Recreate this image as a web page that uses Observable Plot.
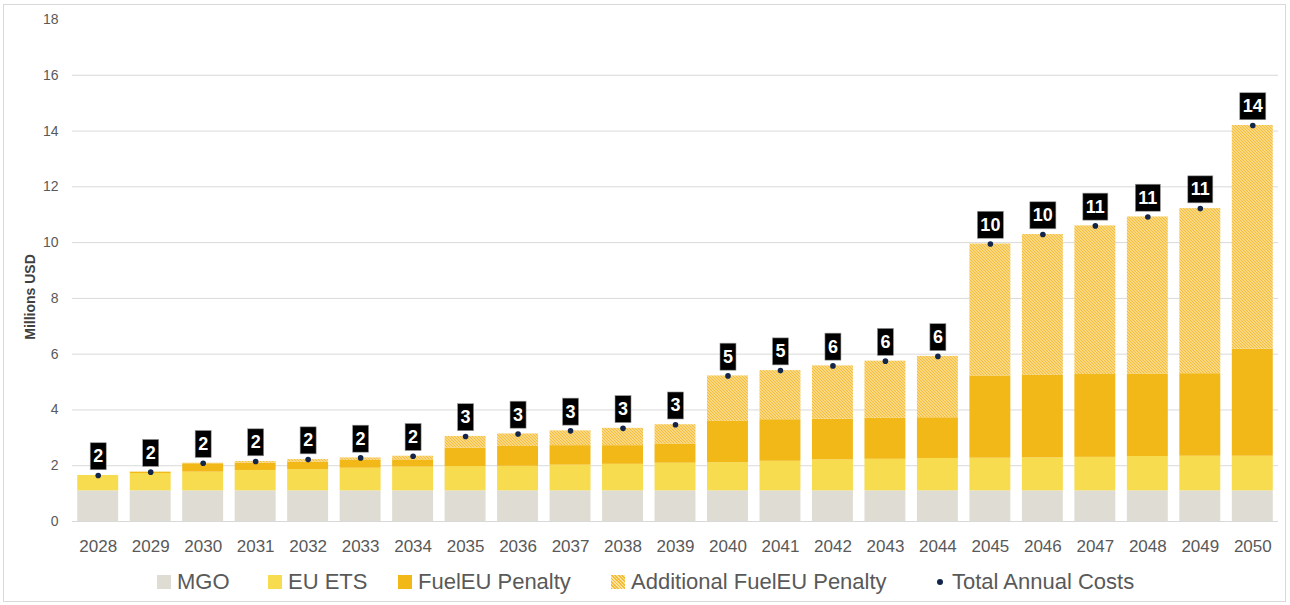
<!DOCTYPE html>
<html>
<head>
<meta charset="utf-8">
<script src="https://cdn.jsdelivr.net/npm/d3@7"></script>
<script src="https://cdn.jsdelivr.net/npm/@observablehq/plot@0.6"></script>
<style>
  html, body { margin: 0; padding: 0; background: #ffffff; }
  body { width: 1290px; height: 605px; position: relative; overflow: hidden; font-family: "Liberation Sans", Arial, sans-serif; }
  #frame { position: absolute; left: 3px; top: 4px; width: 1281px; height: 596px; border: 1px solid #d9d9d9; }
  #chart { position: absolute; left: 0; top: 0; }
  #chart svg g[aria-label="x-axis tick label"] { font-size: 17px; }
  #chart svg g[aria-label="y-axis tick label"] { font-size: 14px; }
  .leg { position: absolute; top: 569px; height: 26px; display: flex; align-items: center; font-size: 22px; color: #595959; white-space: nowrap; }
  .sw { width: 14px; height: 14px; margin-right: 6px; }
  .dotsw { width: 6px; height: 6px; border-radius: 50%; background: #13254a; margin-right: 9px; }
</style>
</head>
<body>
<svg width="0" height="0" style="position:absolute">
  <defs>
    <pattern id="hatch" patternUnits="userSpaceOnUse" width="3" height="3">
      <rect width="3" height="3" fill="#fce3a0"></rect>
      <path d="M-1,2 l2,2 M0,0 l3,3 M2,-1 l2,2" stroke="#f4bc36" stroke-width="1.1"></path>
    </pattern>
  </defs>
</svg>
<div id="frame"></div>
<div id="chart"></div>
<div class="leg" style="left:157px"><div class="sw" style="background:#dfddd3"></div>MGO</div>
<div class="leg" style="left:268px"><div class="sw" style="background:#f6dc4e"></div>EU ETS</div>
<div class="leg" style="left:398px"><div class="sw" style="background:#f2b817"></div>FuelEU Penalty</div>
<div class="leg" style="left:611px"><div class="sw" style="background: repeating-linear-gradient(45deg, #f4bc36 0 1.2px, #fce3a0 1.2px 2.4px);"></div>Additional FuelEU Penalty</div>
<div class="leg" style="left:937px"><div class="dotsw"></div>Total Annual Costs</div>
<script>
const years = [2028, 2029, 2030, 2031, 2032, 2033, 2034, 2035, 2036, 2037, 2038, 2039, 2040, 2041, 2042, 2043, 2044, 2045, 2046, 2047, 2048, 2049, 2050];
const seriesNames = ["MGO", "EU ETS", "FuelEU Penalty", "Additional FuelEU Penalty"];
const mgo = [1.1, 1.1, 1.1, 1.1, 1.1, 1.1, 1.1, 1.1, 1.1, 1.1, 1.1, 1.1, 1.1, 1.1, 1.1, 1.1, 1.1, 1.1, 1.1, 1.1, 1.1, 1.1, 1.1];
const euEts = [0.55, 0.62, 0.67, 0.73, 0.76, 0.81, 0.85, 0.87, 0.88, 0.92, 0.95, 0.99, 1.01, 1.06, 1.11, 1.13, 1.16, 1.17, 1.18, 1.20, 1.23, 1.24, 1.24];
const fuelEu = [0, 0.05, 0.30, 0.26, 0.27, 0.28, 0.26, 0.66, 0.71, 0.70, 0.67, 0.69, 1.48, 1.49, 1.46, 1.47, 1.46, 2.95, 2.96, 2.97, 2.96, 2.96, 3.84];
const additionalFuelEu = [0, 0, 0.02, 0.06, 0.09, 0.09, 0.13, 0.42, 0.45, 0.53, 0.62, 0.69, 1.63, 1.76, 1.91, 2.05, 2.20, 4.73, 5.05, 5.33, 5.63, 5.92, 8.02];
const totalAnnualCosts = [1.65, 1.77, 2.09, 2.15, 2.22, 2.28, 2.34, 3.05, 3.14, 3.25, 3.34, 3.47, 5.22, 5.41, 5.58, 5.75, 5.92, 9.95, 10.29, 10.60, 10.92, 11.22, 14.20];
const yTicks = [0, 2, 4, 6, 8, 10, 12, 14, 16, 18];
const gridTicks = [0, 2, 4, 6, 8, 10, 12, 14, 16];
const seriesColors = ["#dfddd3", "#f6dc4e", "#f2b817", "url(#hatch)"];
const yTitle = "Millions USD";

const seriesArrays = [mgo, euEts, fuelEu, additionalFuelEu];
const rows = years.flatMap((year, i) => seriesNames.map((s, k) => ({year, series: s, value: seriesArrays[k][i]})));
const totals = years.map((year, i) => ({year, total: totalAnnualCosts[i], label: String(Math.round(totalAnnualCosts[i]))}));

const chart = Plot.plot({
  width: 1290,
  height: 560,
  marginTop: 19,
  marginBottom: 39,
  marginLeft: 72,
  marginRight: 12,
  style: {fontFamily: "'Liberation Sans', Arial, sans-serif", color: "#595959", background: "transparent"},
  x: {type: "band", domain: years, paddingInner: 0.22, paddingOuter: 0.1, round: false, tickSize: 0, tickPadding: 18, label: null, tickFormat: d => String(d)},
  y: {domain: [0, 18], ticks: yTicks, tickSize: 0, tickPadding: 14, label: null},
  color: {domain: seriesNames, range: seriesColors},
  marks: [
    Plot.ruleY(gridTicks, {stroke: "#d9d9d9", strokeWidth: 1}),
    Plot.barY(rows, {x: "year", y: "value", fill: "series"}),
    Plot.dot(totals, {x: "year", y: "total", r: 2.8, fill: "#13254a"}),
    Plot.text(totals, {x: "year", y: "total", text: "label", dy: -19, fill: "white", fontWeight: "bold", fontSize: 18})
  ]
});
document.getElementById("chart").append(chart);

// y-axis title
d3.select(chart).append("text")
  .attr("transform", "translate(30,297) rotate(-90)")
  .attr("text-anchor", "middle")
  .attr("dominant-baseline", "central")
  .attr("font-weight", "bold")
  .attr("font-size", 14)
  .attr("fill", "#404040")
  .text(yTitle);

// black boxes behind total labels
chart.querySelectorAll('g[aria-label="text"]').forEach(g => {
  if (g.getAttribute("fill") !== "white") return;
  g.querySelectorAll("text").forEach(t => {
    const b = t.getBBox();
    const r = document.createElementNS("http://www.w3.org/2000/svg", "rect");
    r.setAttribute("x", b.x - 3);
    r.setAttribute("width", b.width + 6);
    r.setAttribute("y", b.y + b.height / 2 - 13.5);
    r.setAttribute("height", 27);
    r.setAttribute("fill", "#000000");
    r.setAttribute("stroke", "#9a9a9a");
    r.setAttribute("stroke-width", 0.6);
    if (t.getAttribute("transform")) r.setAttribute("transform", t.getAttribute("transform"));
    t.parentNode.insertBefore(r, t);
  });
});
</script>
</body>
</html>
